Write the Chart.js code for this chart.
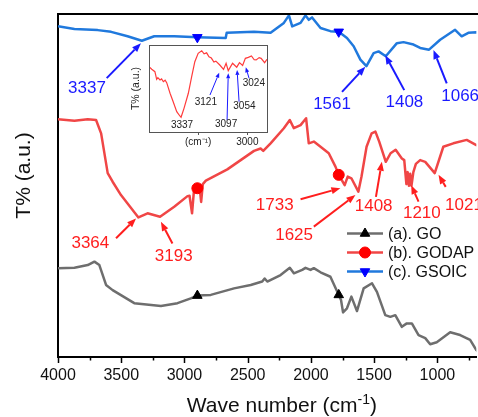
<!DOCTYPE html>
<html>
<head>
<meta charset="utf-8">
<script src="https://cdn.jsdelivr.net/npm/chart.js@4.4.1/dist/chart.umd.min.js"></script>
<style>
  html, body { margin: 0; padding: 0; background: #fff; overflow: hidden; }
  #wrap { position: relative; width: 478px; height: 417px; }
  #main { position: absolute; left: 0; top: 0; }
  #inset { position: absolute; left: 125px; top: 40px; }
</style>
</head>
<body>
<div id="wrap">
  <canvas id="main" width="478" height="417"></canvas>
  <canvas id="inset" width="150" height="112"></canvas>
</div>
<script>
// ---- FTIR spectra (wavenumber in cm-1, transmittance in arbitrary units) ----
const goWn = [4000,3870,3765,3712,3673,3620,3568,3397,3186,3055,2950,2898,2792,2608,2476,2385,2366,2345,2240,2167,2135,2069,2043,2003,1977,1924,1846,1780,1762,1746,1715,1680,1636,1583,1517,1478,1412,1372,1333,1281,1242,1202,1149,1096,1057,1005,899,820,741,692,640];
const goT  = [25.9,26.0,26.8,27.8,26.8,21.0,19.5,15.7,14.9,15.7,17.1,17.9,18.1,20.0,21.0,22.0,22.9,22.0,23.9,26.0,24.4,25.4,26.0,25.4,25.9,24.7,23.4,18.1,16.6,13.0,14.2,17.6,13.4,20.0,21.5,19.0,12.2,11.7,12.2,8.8,9.8,9.8,6.4,5.5,3.7,4.3,7.2,6.4,5.0,2.0,0.5];

const godapWn = [4000,3870,3765,3699,3659,3607,3568,3502,3364,3292,3193,3081,2976,2960,2940,2925,2898,2880,2868,2855,2831,2661,2450,2398,2377,2319,2214,2167,2135,2082,2038,2017,1977,1924,1859,1806,1780,1733,1709,1680,1625,1600,1560,1520,1490,1460,1408,1370,1330,1281,1262,1245,1235,1225,1215,1205,1190,1170,1136,1096,1021,953,874,768,692,620];
const godapT  = [69.3,68.9,69.3,69.1,65.2,53.6,51.1,47.2,40.7,41.9,40.9,43.8,46.9,47.0,41.9,48.5,49.2,49.5,45.2,50.4,51.4,54.7,60.1,60.8,60.1,62.3,66.7,69.1,66.7,67.6,69.6,62.3,62.8,61.3,59.4,55.5,53.1,50.1,52.6,52.1,48.2,52.6,61.3,65.2,65.7,62.8,56.9,59.4,60.4,57.9,57.4,50.4,53.9,49.9,53.4,49.9,53.9,56.3,57.4,56.9,53.6,61.3,62.3,63.3,61.8,61.0];

const gsoicWn = [4000,3870,3686,3580,3450,3337,3239,3081,2898,2674,2666,2450,2319,2214,2174,2148,2082,2043,2017,1991,1924,1846,1780,1715,1662,1609,1561,1504,1465,1408,1320,1268,1189,1136,1066,978,860,808,755,692,620];
const gsoicT  = [96.4,95.6,95.3,94.8,93.5,92.2,93.5,93.5,93.2,93.0,94.5,94.8,94.5,97.4,99.6,96.4,97.4,99.6,98.3,99.0,95.9,95.0,94.8,93.0,90.6,86.7,84.8,88.6,89.1,87.7,91.5,91.8,91.1,90.1,89.6,92.5,95.4,93.5,94.5,94.7,94.0];

// zoomed GODAP region 3500-2900 cm-1
const insetWn = [3500,3486,3470,3461,3455,3444,3436,3427,3418,3410,3393,3377,3359,3343,3337,3322,3300,3283,3267,3250,3232,3220,3207,3195,3183,3170,3160,3140,3121,3108,3097,3075,3054,3040,3024,3010,2995,2979,2965,2955,2940,2930,2912,2900];
const insetT  = [75.1,72.1,69.3,60.6,62.5,59.8,61.0,57.8,59.5,56.7,44.5,34.8,23.3,18.4,16.9,27.2,44.5,63.6,80.8,90.5,93.4,89.8,91.0,86.5,85.0,80.5,81.5,77.0,72.0,79.0,70.5,79.0,74.5,79.7,76.5,84.7,85.8,87.4,83.0,82.8,85.5,84.7,79.7,83.6];

const seriesNames = ['(a). GO', '(b). GODAP', '(c). GSOIC'];
const markerWn = [2898, 1780];

// assigned band positions (cm-1)
const gsoicPeaks = [3337, 1561, 1408, 1066];
const godapPeaks = [3364, 3193, 1733, 1625, 1408, 1210, 1021];
const insetPeaks = [3337, 3121, 3097, 3054, 3024];

const mainTicks = [4000,3750,3500,3250,3000,2750,2500,2250,2000,1750,1500,1250,1000,750];
const insetTicks = [3250, 3000];
const insetTickText = ['(cm\u207B\u00B9)', '3000'];

// ---- layout of the band labels: [wavenumber, T] for label centre, arrow tail, arrow head ----
const gsoicPeakLayout = [
  { label: [3771, 78.3], from: [3615, 81.3], to: [3344, 91.5] },
  { label: [1833, 73.8], from: [1754, 77.3], to: [1570, 84.6] },
  { label: [1261, 74.3], from: [1262, 77.8], to: [1412, 88.0] },
  { label: [820, 75.9],  from: [926, 79.8],  to: [1031, 89.5] }
];
const godapPeakLayout = [
  { label: [3744, 33.1], from: [3541, 34.6], to: [3383, 40.4] },
  { label: [3085, 29.5], from: [3095, 33.1], to: [3186, 39.4] },
  { label: [2286, 44.1], from: [2082, 46.0], to: [1767, 49.2] },
  { label: [2133, 35.4], from: [1977, 38.0], to: [1648, 47.2] },
  { label: [1504, 43.8], from: [1486, 46.7], to: [1439, 56.9] },
  { label: [1123, 41.9], from: [1149, 45.3], to: [1207, 50.1] },
  { label: [790, 44.1],  from: [934, 49.6],  to: [991, 53.1] }
];
const insetPeakLayout = [
  { label: [3332, 7.4] },
  { label: [3211, 34.7], from: [3190, 42.5], to: [3143, 68.2] },
  { label: [3108, 9.3],  from: [3103, 13.8], to: [3097, 67.5] },
  { label: [3015, 29.1], from: [3042, 34.8], to: [3052, 71.3] },
  { label: [2967, 55.7], from: [2991, 61.7], to: [3008, 74.4] }
];

const FONT = "'Liberation Sans', Arial, Helvetica, sans-serif";
const INK = '#111111';
const LABEL_BLUE = '#1a1aff';
const LABEL_RED = '#ff1e1e';

function pts(xs, ys) { return xs.map((x, i) => ({ x: x, y: ys[i] })); }

function series(label, xs, ys, lineColor, markColor, style, rot) {
  return {
    label: label,
    data: pts(xs, ys),
    borderColor: lineColor,
    borderWidth: 2.5,
    borderJoinStyle: 'round',
    tension: 0,
    pointStyle: style,
    rotation: rot,
    pointRotation: rot,
    pointBackgroundColor: markColor,
    pointBorderColor: markColor,
    pointBorderWidth: 1,
    pointRadius: ctx => (ctx.raw && markerWn.includes(ctx.raw.x)) ? 5.5 : 0,
    markColor: markColor
  };
}

function arrow(ctx, x1, y1, x2, y2, color, lw, headLen, headW) {
  const a = Math.atan2(y2 - y1, x2 - x1);
  const bx = x2 - headLen * Math.cos(a), by = y2 - headLen * Math.sin(a);
  ctx.save();
  ctx.strokeStyle = color; ctx.fillStyle = color; ctx.lineWidth = lw;
  ctx.beginPath(); ctx.moveTo(x1, y1); ctx.lineTo(bx, by); ctx.stroke();
  ctx.beginPath();
  ctx.moveTo(x2, y2);
  ctx.lineTo(bx + headW / 2 * Math.sin(a), by - headW / 2 * Math.cos(a));
  ctx.lineTo(bx - headW / 2 * Math.sin(a), by + headW / 2 * Math.cos(a));
  ctx.closePath(); ctx.fill();
  ctx.restore();
}

function peakLabels(chart, peaks, layout, color, fontSize, lw, headLen, headW) {
  const { ctx, scales: { x, y } } = chart;
  ctx.save();
  ctx.font = fontSize + 'px ' + FONT;
  ctx.textAlign = 'center';
  ctx.textBaseline = 'middle';
  peaks.forEach((p, i) => {
    const l = layout[i];
    if (l.from) {
      arrow(ctx, x.getPixelForValue(l.from[0]), y.getPixelForValue(l.from[1]),
            x.getPixelForValue(l.to[0]), y.getPixelForValue(l.to[1]), color.arrow, lw, headLen, headW);
    }
    ctx.fillStyle = color.text;
    ctx.fillText(String(p), x.getPixelForValue(l.label[0]), y.getPixelForValue(l.label[1]));
  });
  ctx.restore();
}

// frame, minor/major ticks, axis titles, legend and band labels of the main plot
const mainDecor = {
  id: 'mainDecor',
  afterDraw(chart) {
    const { ctx, chartArea: a, scales: { x } } = chart;
    ctx.save();
    // top frame line
    ctx.strokeStyle = '#000'; ctx.lineWidth = 2;
    ctx.beginPath(); ctx.moveTo(a.left, a.top); ctx.lineTo(chart.width, a.top); ctx.stroke();
    // tick marks below the axis
    ctx.lineWidth = 1.5;
    mainTicks.forEach(v => {
      const px = Math.round(x.getPixelForValue(v)) + 0.5;
      const len = v % 500 === 0 ? 6 : 3.5;
      ctx.beginPath(); ctx.moveTo(px, a.bottom); ctx.lineTo(px, a.bottom + len); ctx.stroke();
    });
    // x title with superscript
    ctx.fillStyle = INK;
    ctx.textBaseline = 'alphabetic';
    const big = '21px ' + FONT, small = '14px ' + FONT;
    const t1 = 'Wave number (cm', t2 = '-1', t3 = ')';
    ctx.font = big; const w1 = ctx.measureText(t1).width, w3 = ctx.measureText(t3).width;
    ctx.font = small; const w2 = ctx.measureText(t2).width;
    const cx = x.getPixelForValue(2230);
    let sx = cx - (w1 + w2 + w3) / 2;
    const base = 412;
    ctx.textAlign = 'left';
    ctx.font = big; ctx.fillText(t1, sx, base); sx += w1;
    ctx.font = small; ctx.fillText(t2, sx, base - 8); sx += w2;
    ctx.font = big; ctx.fillText(t3, sx, base);
    // y title
    ctx.save();
    ctx.translate(24, (a.top + a.bottom) / 2 - 10);
    ctx.rotate(-Math.PI / 2);
    ctx.textAlign = 'center'; ctx.textBaseline = 'middle';
    ctx.font = big;
    ctx.fillText('T% (a.u.)', 0, 0);
    ctx.restore();
    // legend
    const rowY = [233.5, 252.5, 271.5];
    chart.data.datasets.forEach((ds, i) => {
      const yy = rowY[i];
      ctx.strokeStyle = ds.borderColor; ctx.lineWidth = 2.5;
      ctx.beginPath(); ctx.moveTo(347, yy); ctx.lineTo(383, yy); ctx.stroke();
      ctx.fillStyle = ds.markColor; ctx.strokeStyle = ds.markColor; ctx.lineWidth = 1;
      Chart.helpers.drawPoint(ctx, { pointStyle: ds.pointStyle, rotation: ds.pointRotation, radius: 5.5, borderWidth: 1 }, 365, yy);
      ctx.fillStyle = INK; ctx.font = '16px ' + FONT; ctx.textAlign = 'left'; ctx.textBaseline = 'middle';
      ctx.fillText(ds.label, 388, yy + 1);
    });
    ctx.restore();
    peakLabels(chart, gsoicPeaks, gsoicPeakLayout, { text: LABEL_BLUE, arrow: LABEL_BLUE }, 17, 2, 9, 7);
    peakLabels(chart, godapPeaks, godapPeakLayout, { text: LABEL_RED, arrow: LABEL_RED }, 17, 2, 9, 7);
  }
};

new Chart(document.getElementById('main'), {
  type: 'line',
  data: {
    datasets: [
      series(seriesNames[0], goWn, goT, '#6e6e6e', '#000000', 'triangle', 0),
      series(seriesNames[1], godapWn, godapT, '#f04646', '#ff0000', 'circle', 0),
      series(seriesNames[2], gsoicWn, gsoicT, '#2079dd', '#0000ff', 'triangle', 180)
    ]
  },
  options: {
    responsive: false, animation: false, events: [],
    layout: { padding: { top: 14, left: 0, right: 0, bottom: 0 } },
    plugins: { legend: { display: false }, tooltip: { enabled: false } },
    scales: {
      x: {
        type: 'linear', reverse: true, min: 692, max: 4000,
        afterBuildTicks: s => { s.ticks = mainTicks.map(v => ({ value: v })); },
        afterFit: s => { s.height = 60; },
        grid: { display: false, drawTicks: false },
        border: { display: true, color: '#000', width: 2 },
        ticks: {
          autoSkip: false, maxRotation: 0, padding: 9, color: INK,
          font: { family: FONT, size: 16 },
          callback: v => (v % 500 === 0 ? String(v) : '')
        }
      },
      y: {
        min: 0, max: 100,
        afterFit: s => { s.width = 58; },
        grid: { display: false, drawTicks: false },
        border: { display: true, color: '#000', width: 2 },
        ticks: { display: false }
      }
    }
  },
  plugins: [mainDecor]
});

// inset: white plot box with frame and band labels
const insetDecor = {
  id: 'insetDecor',
  beforeDraw(chart) {
    const { ctx, chartArea: a } = chart;
    ctx.save(); ctx.fillStyle = '#fff';
    ctx.fillRect(a.left, a.top, a.right - a.left, a.bottom - a.top);
    ctx.restore();
  },
  afterDraw(chart) {
    const { ctx, chartArea: a } = chart;
    ctx.save();
    ctx.strokeStyle = '#555'; ctx.lineWidth = 1;
    ctx.strokeRect(Math.round(a.left) + 0.5, Math.round(a.top) + 0.5, Math.round(a.right - a.left), Math.round(a.bottom - a.top));
    ctx.restore();
    peakLabels(chart, insetPeaks, insetPeakLayout, { text: '#222', arrow: '#1a1aff' }, 10, 1, 5, 4);
  }
};

new Chart(document.getElementById('inset'), {
  type: 'line',
  data: {
    datasets: [{
      data: pts(insetWn, insetT),
      borderColor: '#ff3b3b', borderWidth: 1.2, pointRadius: 0, tension: 0
    }]
  },
  options: {
    responsive: false, animation: false, events: [],
    layout: { padding: { top: 5, right: 8, left: 0, bottom: 0 } },
    plugins: { legend: { display: false }, tooltip: { enabled: false } },
    scales: {
      x: {
        type: 'linear', reverse: true, min: 2900, max: 3500,
        afterBuildTicks: s => { s.ticks = insetTicks.map(v => ({ value: v })); },
        afterFit: s => { s.height = 20; },
        grid: { drawOnChartArea: false, drawTicks: true, tickLength: 3, color: '#555', lineWidth: 1 },
        border: { display: true, color: '#555', width: 1 },
        ticks: {
          autoSkip: false, maxRotation: 0, padding: 1, color: '#222',
          font: { family: FONT, size: 10 },
          callback: v => insetTickText[insetTicks.indexOf(v)]
        }
      },
      y: {
        min: 0, max: 100,
        afterFit: s => { s.width = 24; },
        grid: { display: false },
        border: { display: true, color: '#555', width: 1 },
        ticks: { display: false },
        title: { display: true, text: 'T% (a.u.)', color: '#222', font: { family: FONT, size: 10.5 }, padding: { top: 5, bottom: 0 } }
      }
    }
  },
  plugins: [insetDecor]
});
</script>
</body>
</html>
